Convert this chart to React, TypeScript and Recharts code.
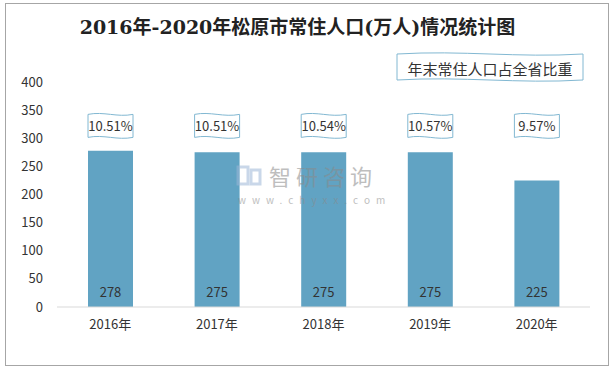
import React from 'react';
import { BarChart, Bar, XAxis, YAxis, LabelList } from 'recharts';

const years = ['2016年', '2017年', '2018年', '2019年', '2020年'];
const population = [278, 275, 275, 275, 225];
const shareOfProvince = ['10.51%', '10.51%', '10.54%', '10.57%', '9.57%'];
const yTicks = [0, 50, 100, 150, 200, 250, 300, 350, 400];

const data = years.map((y, i) => ({ year: y, pop: population[i], pct: shareOfProvince[i] }));

const FONT = '"Microsoft YaHei", "Noto Sans CJK SC", sans-serif';
const BAR = '#61a3c3';
const WAVE = '#82b8d2';
const LABEL_LEVEL = 322;

function wavePath(x0: number, y0: number, w: number, h: number, a: number) {
  const x1 = x0 + w;
  const y1 = y0 + h;
  return `M${x0},${y0} C${x0 + w * 0.35},${y0 - 2 * a} ${x0 + w * 0.65},${y0 + 2 * a} ${x1},${y0} L${x1},${y1} C${x0 + w * 0.65},${y1 + 2 * a} ${x0 + w * 0.35},${y1 - 2 * a} ${x0},${y1} Z`;
}

const PctLabel = (props: any) => {
  const vb = props.viewBox || props;
  const x = Number(vb.x);
  const y = Number(vb.y);
  const width = Number(vb.width);
  const height = Number(vb.height);
  const idx = props.index;
  const v = population[idx];
  const base = y + height;
  const cy = base - (LABEL_LEVEL * height) / v;
  const cx = x + width / 2;
  const w = 45;
  const h = 23;
  return (
    <g>
      <path d={wavePath(cx - w / 2, cy - h / 2, w, h, 1.6)} fill="#fff" stroke={WAVE} strokeWidth={1} />
      <text x={cx} y={cy} textAnchor="middle" dominantBaseline="central" fontSize={13} fill="#333" fontFamily={FONT}>
        {props.value}
      </text>
    </g>
  );
};

export default function App() {
  return (
    <div style={{ position: 'fixed', width: 615, height: 370, left: 0, top: 0, background: '#fff', fontFamily: FONT, overflow: 'hidden' }}>
      <BarChart width={615} height={370} data={data} margin={{ top: 82, right: 25, bottom: 33, left: 0 }} style={{ position: 'absolute', left: 0, top: 0 }}>
        <YAxis width={57} domain={[0, 400]} ticks={yTicks} axisLine={false} tickLine={false} tickMargin={8} tick={{ fontSize: 13, fill: '#333', fontFamily: FONT }} interval={0} />
        <XAxis dataKey="year" axisLine={{ stroke: '#d9d9d9' }} tickLine={false} tickMargin={7} height={30} tick={{ fontSize: 13, fill: '#333', fontFamily: FONT }} />
        <Bar dataKey="pop" fill={BAR} barSize={45} isAnimationActive={false}>
          <LabelList dataKey="pop" position="insideBottom" offset={10} fill="#333" fontSize={13} fontFamily={FONT} />
          <LabelList dataKey="pct" content={PctLabel} />
        </Bar>
      </BarChart>
      <div style={{ position: 'absolute', left: 0, top: 14, width: 595, textAlign: 'center', fontFamily: '"DejaVu Serif", "Noto Sans CJK SC", serif', fontWeight: 'bold', fontSize: 19, lineHeight: '26px', color: '#222' }}>
        2016年-2020年松原市常住人口(万人)情况统计图
      </div>
      <svg width={615} height={370} style={{ position: 'absolute', left: 0, top: 0, pointerEvents: 'none' }}>
        <rect x={5.5} y={3.5} width={603} height={362} fill="none" stroke="#a6a6a6" strokeWidth={1} />
        <path d={wavePath(397, 54, 186, 26, 2)} fill="#fff" stroke={WAVE} strokeWidth={1} />
        <text x={490} y={68} textAnchor="middle" dominantBaseline="central" fontSize={15} fill="#333" fontFamily={FONT}>年末常住人口占全省比重</text>
        <g opacity={0.55}>
          <rect x={238} y={167} width={10} height={17} fill="none" stroke="#9db8d8" strokeWidth={3} />
          <rect x={251} y={170} width={9} height={14} fill="none" stroke="#9db8d8" strokeWidth={3} />
          <text x={269} y={175} dominantBaseline="central" fontSize={22} fill="#8a8a8a" letterSpacing={5} fontFamily={FONT}>智研咨询</text>
          <text x={238} y={199} dominantBaseline="central" fontSize={10} fill="#8a8a8a" letterSpacing={6} fontFamily={FONT}>www.chyxx.com</text>
        </g>
      </svg>
    </div>
  );
}
